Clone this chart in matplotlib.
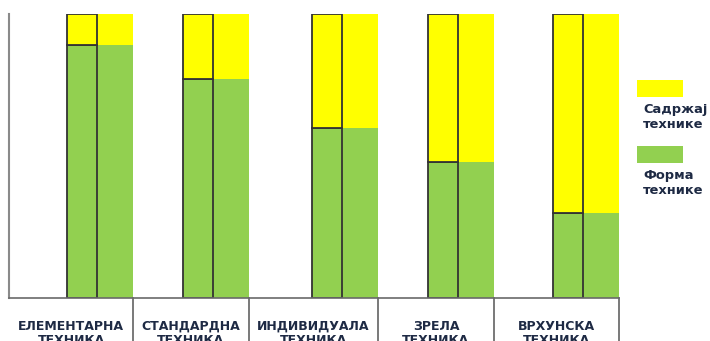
import matplotlib
matplotlib.use("Agg")
import matplotlib.pyplot as plt
from matplotlib.patches import Rectangle

# Data: share of "form" vs "content" of technique per level (percent)
categories = ["ЕЛЕМЕНТАРНА\nТЕХНИКА", "СТАНДАРДНА\nТЕХНИКА", "ИНДИВИДУАЛА\nТЕХНИКА",
              "ЗРЕЛА\nТЕХНИКА", "ВРХУНСКА\nТЕХНИКА"]
forma = [89, 77, 60, 48, 30]
sadrzaj = [11, 23, 40, 52, 70]
legend_labels = ["Садржај\nтехнике", "Форма\nтехнике"]

GREEN = "#92D050"
YELLOW = "#FFFF00"
TEXT = "#1E2A44"

W, H = 710, 341
fig = plt.figure(figsize=(W / 100, H / 100), dpi=100)

# plot area in pixels
x0, x1 = 9, 618.5
y_bot, y_top = 298, 14
ax = fig.add_axes([x0 / W, (H - y_bot) / H, (x1 - x0) / W, (y_bot - y_top) / H])

# category boundaries (in axis units = pixels from the left spine)
edges = [0, 124, 239.5, 369, 485, 609.5]
left_w, right_w = 30, 36

ax.set_xlim(0, edges[-1])
ax.set_ylim(0, 100)

for i in range(len(categories)):
    right_edge = edges[i + 1]
    xl = right_edge - right_w - left_w
    xr = right_edge - right_w
    # right bar: plain
    ax.bar(xr, forma[i], width=right_w, align="edge", color=GREEN, linewidth=0)
    ax.bar(xr, sadrzaj[i], bottom=forma[i], width=right_w, align="edge",
           color=YELLOW, linewidth=0)
    # left bar: outlined
    ax.bar(xl, forma[i], width=left_w, align="edge", color=GREEN,
           edgecolor="#333333", linewidth=1.3)
    ax.bar(xl, sadrzaj[i], bottom=forma[i], width=left_w, align="edge",
           color=YELLOW, edgecolor="#333333", linewidth=1.3)

for s in ["top", "right"]:
    ax.spines[s].set_visible(False)
ax.spines["left"].set_color("#8a8a8a")
ax.spines["left"].set_linewidth(1.5)
ax.spines["bottom"].set_color("#6a6a6a")
ax.spines["bottom"].set_linewidth(1.2)
ax.set_xticks([])
ax.set_yticks([])

# category separators below the axis
y_low = -(H - y_bot) / (y_bot - y_top) * 100
for e in edges[1:]:
    ax.plot([e, e], [0, y_low], color="#555555", lw=1.1, clip_on=False)

# category labels
for i, lab in enumerate(categories):
    xc = (edges[i] + edges[i + 1]) / 2
    ax.text(xc, -7.6, lab, ha="center", va="top", fontsize=9.0,
            fontweight="bold", color=TEXT, linespacing=1.1, clip_on=False)

# legend
def px_to_fig(x, y):
    return x / W, (H - y) / H

for (ybox, color, lab) in [(80, YELLOW, legend_labels[0]), (146, GREEN, legend_labels[1])]:
    bx, by = px_to_fig(637, ybox + 17)
    fig.patches.append(Rectangle((bx, by), 46 / W, 17 / H, transform=fig.transFigure,
                                 facecolor=color, edgecolor="none"))
    tx, ty = px_to_fig(643, ybox + 23)
    fig.text(tx, ty, lab, ha="left", va="top", fontsize=9.4, fontweight="bold",
             color=TEXT, linespacing=1.2)

fig.savefig("out.png", dpi=100)
